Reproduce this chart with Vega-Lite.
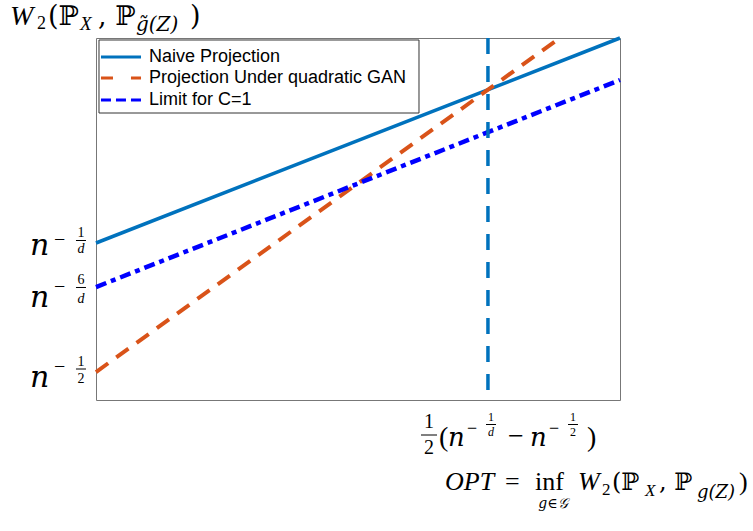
{
"$schema": "https://vega.github.io/schema/vega-lite/v6.json",
"width": 524, "height": 362,
"autosize": {"type": "none"},
"padding": {"left": 96, "top": 38, "right": 133, "bottom": 131},
"background": "white",
"config": {"view": {"stroke": "#777777", "strokeWidth": 1}, "axis": {"disable": true}, "text": {"baseline": "alphabetic", "color": "black"}},
"data": {"values": [{}]},
"layer": [
{"data": {"values": [{"series": "Naive Projection", "x": 0, "y": 0.4337}, {"series": "Naive Projection", "x": 1, "y": 1.0}]},
 "mark": {"type": "line", "color": "#0072BD", "strokeWidth": 3.5},
 "encoding": {"x": {"field": "x", "type": "quantitative", "scale": {"domain": [0, 1], "nice": false, "zero": false}, "axis": null},
              "y": {"field": "y", "type": "quantitative", "scale": {"domain": [0, 1], "nice": false, "zero": false}, "axis": null}}},
{"data": {"values": [{"series": "Projection Under quadratic GAN", "x": 0, "y": 0.0773}, {"series": "Projection Under quadratic GAN", "x": 0.885, "y": 1.0}]},
 "mark": {"type": "line", "color": "#D95319", "strokeWidth": 4, "strokeDash": [15, 10]},
 "encoding": {"x": {"field": "x", "type": "quantitative"}, "y": {"field": "y", "type": "quantitative"}}},
{"data": {"values": [{"series": "Limit for C=1", "x": 0, "y": 0.312}, {"series": "Limit for C=1", "x": 1, "y": 0.884}]},
 "mark": {"type": "line", "color": "#0000FF", "strokeWidth": 4.5, "strokeDash": [11, 5, 5, 5]},
 "encoding": {"x": {"field": "x", "type": "quantitative"}, "y": {"field": "y", "type": "quantitative"}}},
{"mark": {"type": "rule", "color": "#0072BD", "strokeWidth": 3.5, "strokeDash": [16, 12]},
 "encoding": {"x": {"datum": 0.748, "type": "quantitative"}, "y": {"datum": 1, "type": "quantitative"}, "y2": {"datum": 0}}},

{"mark": {"type": "rect", "fill": "white", "stroke": "#333333", "strokeWidth": 1},
 "encoding": {"x": {"datum": 0.0057, "type": "quantitative"}, "x2": {"datum": 0.6164}, "y": {"datum": 0.9945, "type": "quantitative"}, "y2": {"datum": 0.7928}}},
{"mark": {"type": "rule", "color": "#0072BD", "strokeWidth": 3},
 "encoding": {"x": {"datum": 0.0095, "type": "quantitative"}, "x2": {"datum": 0.0859}, "y": {"datum": 0.9475, "type": "quantitative"}}},
{"mark": {"type": "rule", "color": "#D95319", "strokeWidth": 3, "strokeDash": [12, 18]},
 "encoding": {"x": {"datum": 0.0095, "type": "quantitative"}, "x2": {"datum": 0.0859}, "y": {"datum": 0.8895, "type": "quantitative"}}},
{"mark": {"type": "rule", "color": "#0000FF", "strokeWidth": 3, "strokeDash": [10, 5]},
 "encoding": {"x": {"datum": 0.0095, "type": "quantitative"}, "x2": {"datum": 0.0859}, "y": {"datum": 0.8287, "type": "quantitative"}}},
{"mark": {"type": "text", "font": "Liberation Sans", "fontSize": 18, "align": "left", "baseline": "middle", "text": "Naive Projection"},
 "encoding": {"x": {"datum": 0.1011, "type": "quantitative"}, "y": {"datum": 0.9475, "type": "quantitative"}}},
{"mark": {"type": "text", "font": "Liberation Sans", "fontSize": 18, "align": "left", "baseline": "middle", "text": "Projection Under quadratic GAN"},
 "encoding": {"x": {"datum": 0.1011, "type": "quantitative"}, "y": {"datum": 0.8895, "type": "quantitative"}}},
{"mark": {"type": "text", "font": "Liberation Sans", "fontSize": 18, "align": "left", "baseline": "middle", "text": "Limit for C=1"},
 "encoding": {"x": {"datum": 0.1011, "type": "quantitative"}, "y": {"datum": 0.8287, "type": "quantitative"}}},

{"mark": {"type": "text", "font": "Liberation Serif", "fontSize": 28, "fontStyle": "italic", "align": "left", "baseline": "alphabetic", "text": "W"},
 "encoding": {"x": {"datum": -0.1641, "type": "quantitative"}, "y": {"datum": 1.0359, "type": "quantitative"}}},
{"mark": {"type": "text", "font": "Liberation Serif", "fontSize": 18, "align": "left", "baseline": "alphabetic", "text": "2"},
 "encoding": {"x": {"datum": -0.1126, "type": "quantitative"}, "y": {"datum": 1.0249, "type": "quantitative"}}},
{"mark": {"type": "text", "font": "DejaVu Serif", "fontSize": 27, "align": "left", "baseline": "alphabetic", "text": "(ℙ"},
 "encoding": {"x": {"datum": -0.0916, "type": "quantitative"}, "y": {"datum": 1.0359, "type": "quantitative"}}},
{"mark": {"type": "text", "font": "Liberation Serif", "fontSize": 19, "fontStyle": "italic", "align": "left", "baseline": "alphabetic", "text": "X"},
 "encoding": {"x": {"datum": -0.0305, "type": "quantitative"}, "y": {"datum": 1.0221, "type": "quantitative"}}},
{"mark": {"type": "text", "font": "DejaVu Serif", "fontSize": 27, "align": "left", "baseline": "alphabetic", "text": ", ℙ"},
 "encoding": {"x": {"datum": 0.0038, "type": "quantitative"}, "y": {"datum": 1.0359, "type": "quantitative"}}},
{"mark": {"type": "text", "font": "DejaVu Serif", "fontSize": 20, "fontStyle": "italic", "align": "left", "baseline": "alphabetic", "text": "g̃(Z)"},
 "encoding": {"x": {"datum": 0.0763, "type": "quantitative"}, "y": {"datum": 1.0193, "type": "quantitative"}}},
{"mark": {"type": "text", "font": "DejaVu Serif", "fontSize": 27, "align": "left", "baseline": "alphabetic", "text": ")"},
 "encoding": {"x": {"datum": 0.1794, "type": "quantitative"}, "y": {"datum": 1.0359, "type": "quantitative"}}},

{"mark": {"type": "text", "font": "DejaVu Serif", "fontSize": 30, "fontStyle": "italic", "align": "left", "baseline": "alphabetic", "text": "n"},
 "encoding": {"x": {"datum": -0.126, "type": "quantitative"}, "y": {"datum": 0.4006, "type": "quantitative"}}},
{"mark": {"type": "text", "font": "Liberation Serif", "fontSize": 20, "align": "left", "baseline": "alphabetic", "text": "−"},
 "encoding": {"x": {"datum": -0.0802, "type": "quantitative"}, "y": {"datum": 0.4254, "type": "quantitative"}}},
{"mark": {"type": "text", "font": "Liberation Serif", "fontSize": 14, "align": "center", "baseline": "alphabetic", "text": "1"},
 "encoding": {"x": {"datum": -0.0286, "type": "quantitative"}, "y": {"datum": 0.4503, "type": "quantitative"}}},
{"mark": {"type": "rule", "color": "black", "strokeWidth": 1},
 "encoding": {"x": {"datum": -0.0382, "type": "quantitative"}, "x2": {"datum": -0.0191}, "y": {"datum": 0.4406, "type": "quantitative"}}},
{"mark": {"type": "text", "font": "Liberation Serif", "fontSize": 14, "fontStyle": "italic", "align": "center", "baseline": "alphabetic", "text": "d"},
 "encoding": {"x": {"datum": -0.0286, "type": "quantitative"}, "y": {"datum": 0.4061, "type": "quantitative"}}},

{"mark": {"type": "text", "font": "DejaVu Serif", "fontSize": 30, "fontStyle": "italic", "align": "left", "baseline": "alphabetic", "text": "n"},
 "encoding": {"x": {"datum": -0.126, "type": "quantitative"}, "y": {"datum": 0.2569, "type": "quantitative"}}},
{"mark": {"type": "text", "font": "Liberation Serif", "fontSize": 20, "align": "left", "baseline": "alphabetic", "text": "−"},
 "encoding": {"x": {"datum": -0.0802, "type": "quantitative"}, "y": {"datum": 0.2956, "type": "quantitative"}}},
{"mark": {"type": "text", "font": "Liberation Serif", "fontSize": 14, "align": "center", "baseline": "alphabetic", "text": "6"},
 "encoding": {"x": {"datum": -0.0286, "type": "quantitative"}, "y": {"datum": 0.3204, "type": "quantitative"}}},
{"mark": {"type": "rule", "color": "black", "strokeWidth": 1},
 "encoding": {"x": {"datum": -0.0382, "type": "quantitative"}, "x2": {"datum": -0.0191}, "y": {"datum": 0.3108, "type": "quantitative"}}},
{"mark": {"type": "text", "font": "Liberation Serif", "fontSize": 14, "fontStyle": "italic", "align": "center", "baseline": "alphabetic", "text": "d"},
 "encoding": {"x": {"datum": -0.0286, "type": "quantitative"}, "y": {"datum": 0.268, "type": "quantitative"}}},

{"mark": {"type": "text", "font": "DejaVu Serif", "fontSize": 30, "fontStyle": "italic", "align": "left", "baseline": "alphabetic", "text": "n"},
 "encoding": {"x": {"datum": -0.126, "type": "quantitative"}, "y": {"datum": 0.0359, "type": "quantitative"}}},
{"mark": {"type": "text", "font": "Liberation Serif", "fontSize": 20, "align": "left", "baseline": "alphabetic", "text": "−"},
 "encoding": {"x": {"datum": -0.0802, "type": "quantitative"}, "y": {"datum": 0.0746, "type": "quantitative"}}},
{"mark": {"type": "text", "font": "Liberation Serif", "fontSize": 14, "align": "center", "baseline": "alphabetic", "text": "1"},
 "encoding": {"x": {"datum": -0.0286, "type": "quantitative"}, "y": {"datum": 0.094, "type": "quantitative"}}},
{"mark": {"type": "rule", "color": "black", "strokeWidth": 1},
 "encoding": {"x": {"datum": -0.0382, "type": "quantitative"}, "x2": {"datum": -0.0191}, "y": {"datum": 0.0856, "type": "quantitative"}}},
{"mark": {"type": "text", "font": "Liberation Serif", "fontSize": 14, "align": "center", "baseline": "alphabetic", "text": "2"},
 "encoding": {"x": {"datum": -0.0286, "type": "quantitative"}, "y": {"datum": 0.047, "type": "quantitative"}}},

{"mark": {"type": "text", "font": "Liberation Serif", "fontSize": 20, "align": "center", "baseline": "alphabetic", "text": "1"},
 "encoding": {"x": {"datum": 0.6355, "type": "quantitative"}, "y": {"datum": -0.0773, "type": "quantitative"}}},
{"mark": {"type": "rule", "color": "black", "strokeWidth": 1},
 "encoding": {"x": {"datum": 0.6202, "type": "quantitative"}, "x2": {"datum": 0.6508}, "y": {"datum": -0.0967, "type": "quantitative"}}},
{"mark": {"type": "text", "font": "Liberation Serif", "fontSize": 20, "align": "center", "baseline": "alphabetic", "text": "2"},
 "encoding": {"x": {"datum": 0.6355, "type": "quantitative"}, "y": {"datum": -0.1492, "type": "quantitative"}}},
{"mark": {"type": "text", "font": "Liberation Serif", "fontSize": 28, "align": "left", "baseline": "alphabetic", "text": "("},
 "encoding": {"x": {"datum": 0.6546, "type": "quantitative"}, "y": {"datum": -0.1271, "type": "quantitative"}}},
{"mark": {"type": "text", "font": "DejaVu Serif", "fontSize": 26, "fontStyle": "italic", "align": "left", "baseline": "alphabetic", "text": "n"},
 "encoding": {"x": {"datum": 0.6718, "type": "quantitative"}, "y": {"datum": -0.1271, "type": "quantitative"}}},
{"mark": {"type": "text", "font": "Liberation Serif", "fontSize": 18, "align": "left", "baseline": "alphabetic", "text": "−"},
 "encoding": {"x": {"datum": 0.708, "type": "quantitative"}, "y": {"datum": -0.0953, "type": "quantitative"}}},
{"mark": {"type": "text", "font": "Liberation Serif", "fontSize": 12, "align": "center", "baseline": "alphabetic", "text": "1"},
 "encoding": {"x": {"datum": 0.7538, "type": "quantitative"}, "y": {"datum": -0.058, "type": "quantitative"}}},
{"mark": {"type": "rule", "color": "black", "strokeWidth": 1},
 "encoding": {"x": {"datum": 0.7443, "type": "quantitative"}, "x2": {"datum": 0.7634}, "y": {"datum": -0.0677, "type": "quantitative"}}},
{"mark": {"type": "text", "font": "Liberation Serif", "fontSize": 12, "fontStyle": "italic", "align": "center", "baseline": "alphabetic", "text": "d"},
 "encoding": {"x": {"datum": 0.7538, "type": "quantitative"}, "y": {"datum": -0.0994, "type": "quantitative"}}},
{"mark": {"type": "text", "font": "Liberation Serif", "fontSize": 28, "align": "left", "baseline": "alphabetic", "text": "−"},
 "encoding": {"x": {"datum": 0.7863, "type": "quantitative"}, "y": {"datum": -0.1243, "type": "quantitative"}}},
{"mark": {"type": "text", "font": "DejaVu Serif", "fontSize": 26, "fontStyle": "italic", "align": "left", "baseline": "alphabetic", "text": "n"},
 "encoding": {"x": {"datum": 0.8282, "type": "quantitative"}, "y": {"datum": -0.1271, "type": "quantitative"}}},
{"mark": {"type": "text", "font": "Liberation Serif", "fontSize": 18, "align": "left", "baseline": "alphabetic", "text": "−"},
 "encoding": {"x": {"datum": 0.8645, "type": "quantitative"}, "y": {"datum": -0.0953, "type": "quantitative"}}},
{"mark": {"type": "text", "font": "Liberation Serif", "fontSize": 12, "align": "center", "baseline": "alphabetic", "text": "1"},
 "encoding": {"x": {"datum": 0.9103, "type": "quantitative"}, "y": {"datum": -0.058, "type": "quantitative"}}},
{"mark": {"type": "rule", "color": "black", "strokeWidth": 1},
 "encoding": {"x": {"datum": 0.9008, "type": "quantitative"}, "x2": {"datum": 0.9198}, "y": {"datum": -0.0677, "type": "quantitative"}}},
{"mark": {"type": "text", "font": "Liberation Serif", "fontSize": 12, "align": "center", "baseline": "alphabetic", "text": "2"},
 "encoding": {"x": {"datum": 0.9103, "type": "quantitative"}, "y": {"datum": -0.0994, "type": "quantitative"}}},
{"mark": {"type": "text", "font": "Liberation Serif", "fontSize": 28, "align": "left", "baseline": "alphabetic", "text": ")"},
 "encoding": {"x": {"datum": 0.937, "type": "quantitative"}, "y": {"datum": -0.1271, "type": "quantitative"}}},

{"mark": {"type": "text", "font": "Liberation Serif", "fontSize": 26, "fontStyle": "italic", "align": "left", "baseline": "alphabetic", "text": "OPT"},
 "encoding": {"x": {"datum": 0.666, "type": "quantitative"}, "y": {"datum": -0.2486, "type": "quantitative"}}},
{"mark": {"type": "text", "font": "Liberation Serif", "fontSize": 26, "align": "left", "baseline": "alphabetic", "text": "="},
 "encoding": {"x": {"datum": 0.7805, "type": "quantitative"}, "y": {"datum": -0.2486, "type": "quantitative"}}},
{"mark": {"type": "text", "font": "Liberation Serif", "fontSize": 26, "align": "left", "baseline": "alphabetic", "text": "inf"},
 "encoding": {"x": {"datum": 0.8378, "type": "quantitative"}, "y": {"datum": -0.2486, "type": "quantitative"}}},
{"mark": {"type": "text", "font": "DejaVu Serif", "fontSize": 14, "fontStyle": "italic", "align": "center", "baseline": "alphabetic", "text": "g∈𝒢"},
 "encoding": {"x": {"datum": 0.8721, "type": "quantitative"}, "y": {"datum": -0.2983, "type": "quantitative"}}},
{"mark": {"type": "text", "font": "Liberation Serif", "fontSize": 26, "fontStyle": "italic", "align": "left", "baseline": "alphabetic", "text": "W"},
 "encoding": {"x": {"datum": 0.9198, "type": "quantitative"}, "y": {"datum": -0.2486, "type": "quantitative"}}},
{"mark": {"type": "text", "font": "Liberation Serif", "fontSize": 17, "align": "left", "baseline": "alphabetic", "text": "2"},
 "encoding": {"x": {"datum": 0.9656, "type": "quantitative"}, "y": {"datum": -0.2624, "type": "quantitative"}}},
{"mark": {"type": "text", "font": "DejaVu Serif", "fontSize": 24, "align": "left", "baseline": "alphabetic", "text": "(ℙ"},
 "encoding": {"x": {"datum": 0.9847, "type": "quantitative"}, "y": {"datum": -0.2486, "type": "quantitative"}}},
{"mark": {"type": "text", "font": "Liberation Serif", "fontSize": 17, "fontStyle": "italic", "align": "left", "baseline": "alphabetic", "text": "X"},
 "encoding": {"x": {"datum": 1.0477, "type": "quantitative"}, "y": {"datum": -0.2652, "type": "quantitative"}}},
{"mark": {"type": "text", "font": "DejaVu Serif", "fontSize": 24, "align": "left", "baseline": "alphabetic", "text": ", ℙ"},
 "encoding": {"x": {"datum": 1.0744, "type": "quantitative"}, "y": {"datum": -0.2486, "type": "quantitative"}}},
{"mark": {"type": "text", "font": "DejaVu Serif", "fontSize": 18, "fontStyle": "italic", "align": "left", "baseline": "alphabetic", "text": "g(Z)"},
 "encoding": {"x": {"datum": 1.1469, "type": "quantitative"}, "y": {"datum": -0.2707, "type": "quantitative"}}},
{"mark": {"type": "text", "font": "Liberation Serif", "fontSize": 26, "align": "left", "baseline": "alphabetic", "text": ")"},
 "encoding": {"x": {"datum": 1.2271, "type": "quantitative"}, "y": {"datum": -0.2486, "type": "quantitative"}}}
]
}
